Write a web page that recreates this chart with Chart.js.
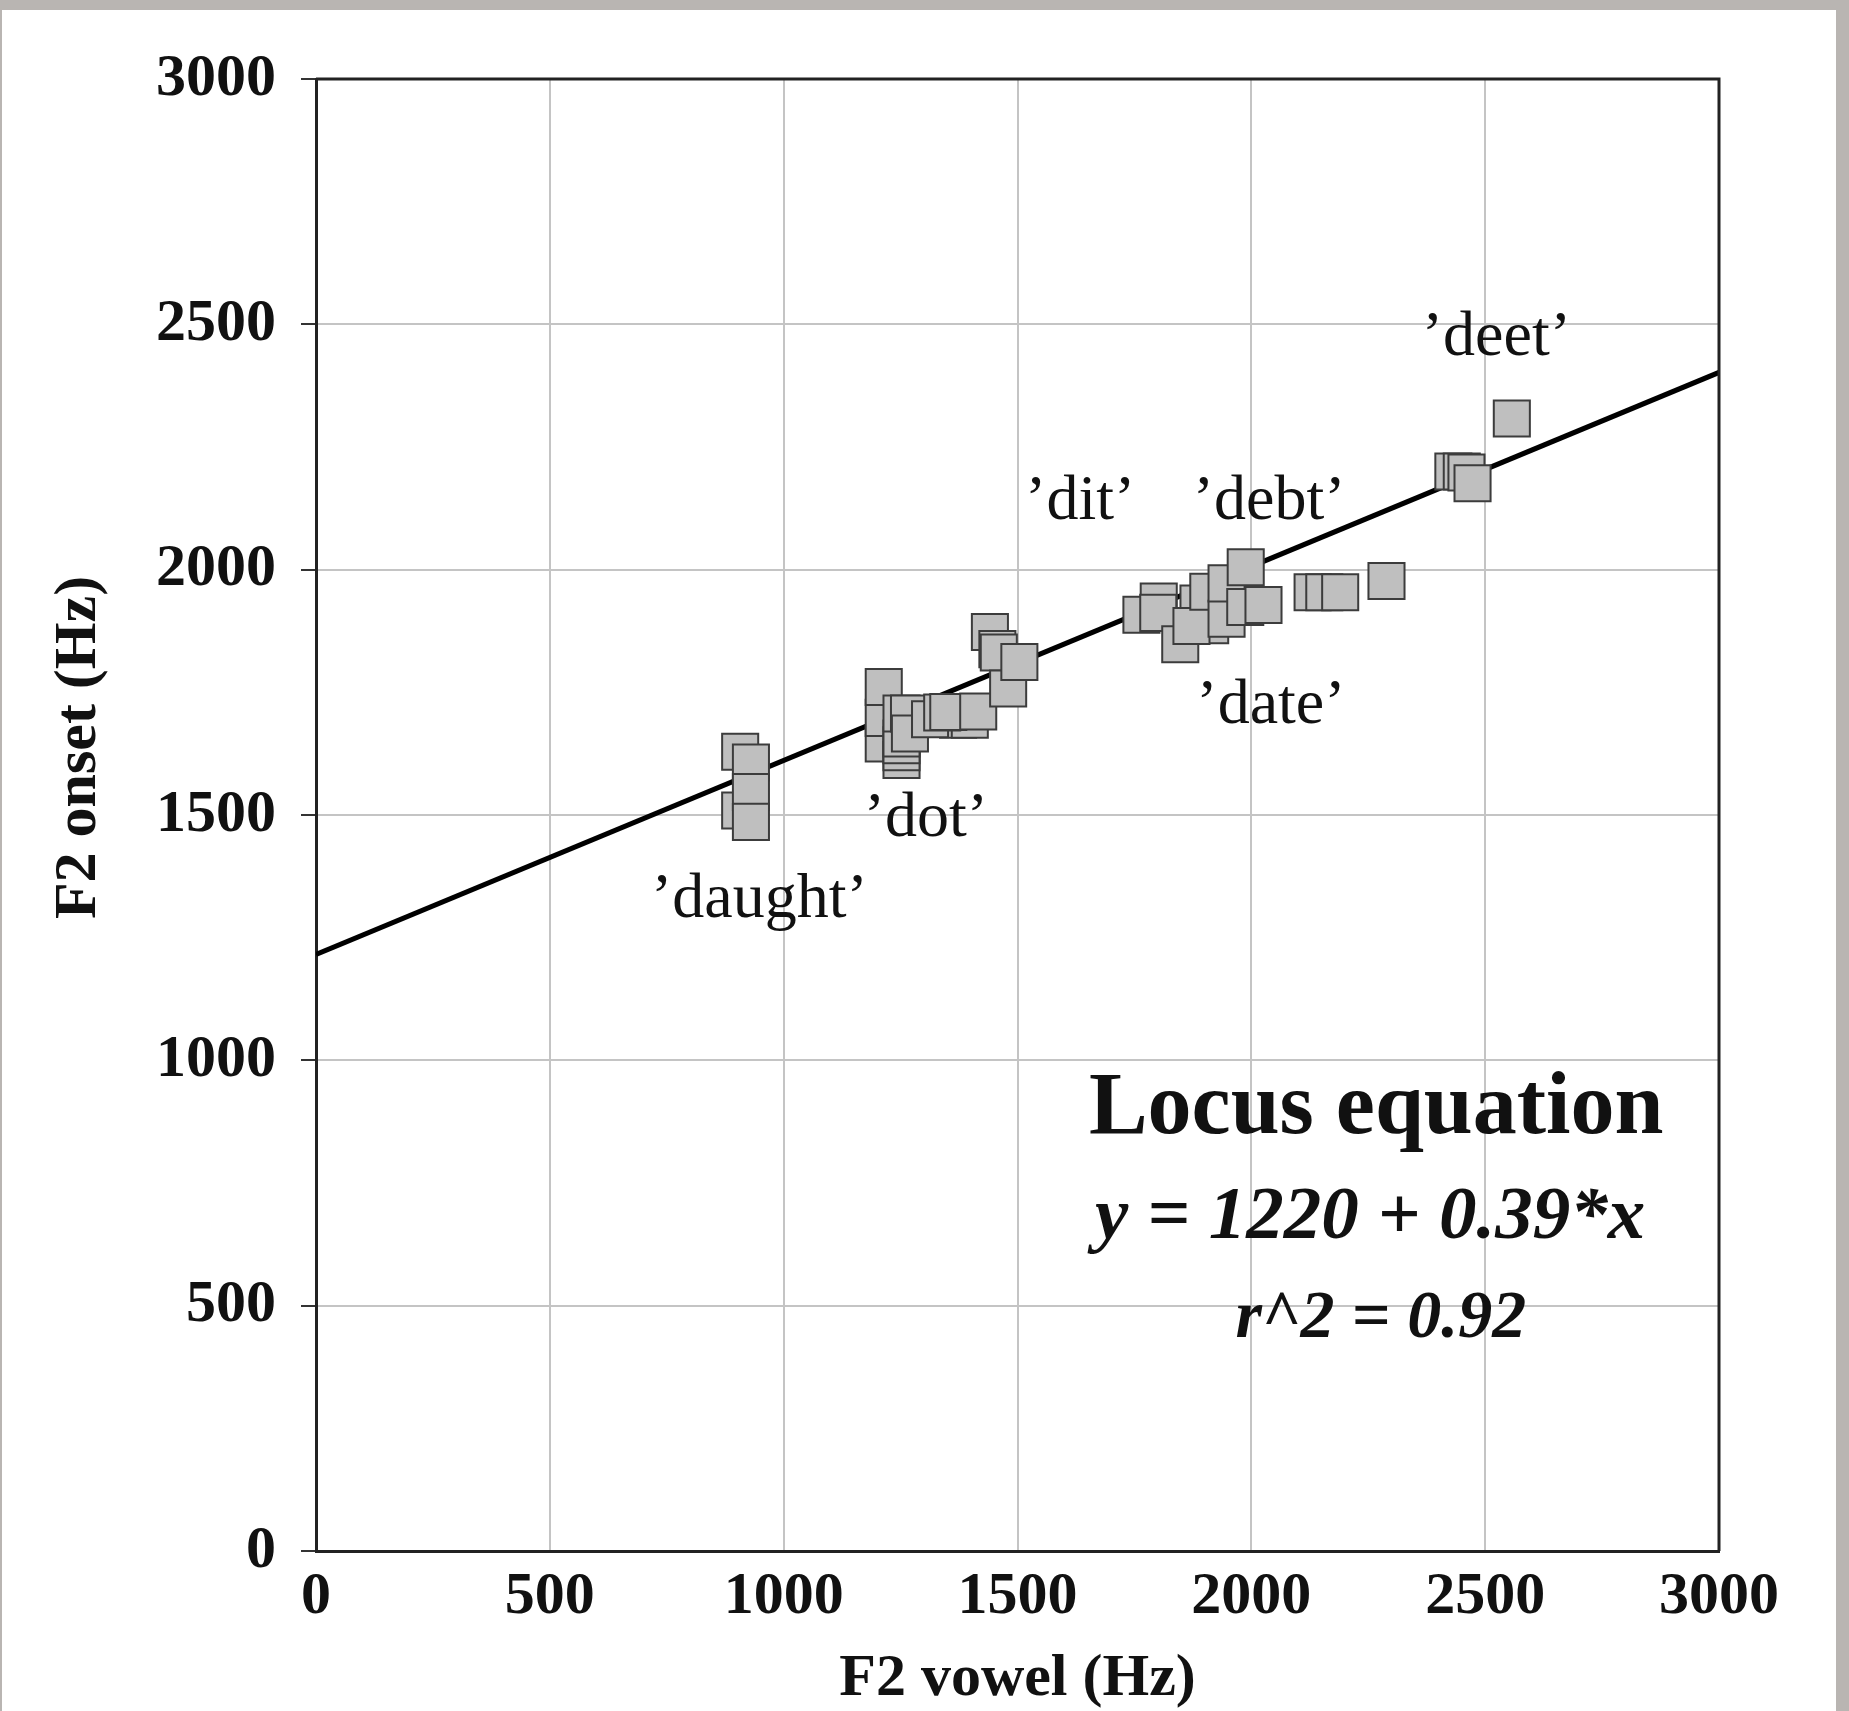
<!DOCTYPE html>
<html>
<head>
<meta charset="utf-8">
<script src="https://cdn.jsdelivr.net/npm/chart.js@4.4.1/dist/chart.umd.min.js"></script>
<style>
html,body{margin:0;padding:0;background:#ffffff;}
canvas{display:block;}
</style>
</head>
<body>
<canvas id="c" width="1849" height="1711"></canvas>
<script>
// ---- data (Hz) ----
const f2Vowel = [
  907, 907, 930, 930, 930,                                   // 'daught'
  1214, 1214, 1214, 1252, 1252, 1252, 1252, 1252, 1268, 1270,
  1373, 1398, 1313, 1339, 1352, 1416,                        // 'dot'
  1441, 1457, 1460, 1480, 1504,                              // 'dit'
  1802, 1765, 1801, 1848, 1887, 1912, 1872, 1908, 1947, 1947,
  1987, 1988, 2026,                                          // 'date' / 'debt'
  2131, 2156, 2190, 2289,
  2432, 2450, 2460, 2473, 2557                               // 'deet'
];
const f2Onset = [
  1629, 1509, 1607, 1547, 1486,
  1646, 1698, 1761, 1612, 1628, 1642, 1656, 1707, 1707, 1666,
  1694, 1694, 1695, 1709, 1710, 1711,
  1873, 1838, 1831, 1758, 1812,
  1935, 1908, 1912, 1848, 1931, 1887, 1885, 1955, 1900, 1972,
  1924, 2005, 1928,
  1954, 1954, 1954, 1977,
  2200, 2200, 2198, 2176, 2308
];
// regression line end points as drawn (y ≈ 1220 + 0.39*x)
const fitX = [0, 3000];
const fitY = [1216, 2402];
const axisTicks = [0, 500, 1000, 1500, 2000, 2500, 3000];

// word labels and their anchor (Hz)
const wordLabels = ["\u2019daught\u2019", "\u2019dot\u2019", "\u2019dit\u2019", "\u2019debt\u2019", "\u2019date\u2019", "\u2019deet\u2019"];
const wordX = [948, 1304, 1634, 2038, 2042, 2524];
const wordY = [1292, 1457, 2103, 2103, 1687, 2437];

const eqLines = ["Locus equation", "y = 1220 + 0.39*x", "r^2 = 0.92"];
const eqX = [2267, 2254, 2277];
const eqY = [852, 638, 436];

// ---- chart ----
const FAMILY = '"Liberation Serif", "Times New Roman", serif';

const decor = {
  id: 'decor',
  beforeDraw(chart) {
    const {ctx, width, height} = chart;
    ctx.save();
    ctx.fillStyle = '#b9b5b2';
    ctx.fillRect(0, 0, width, height);
    ctx.fillStyle = '#ffffff';
    ctx.fillRect(2, 10, width - 2 - 13, height - 10);
    ctx.restore();
  },
  afterDatasetsDraw(chart) {
    const {ctx, chartArea: a} = chart;
    const xs = chart.scales.x, ys = chart.scales.y;
    ctx.save();
    ctx.strokeStyle = '#222';
    ctx.lineWidth = 3;
    ctx.beginPath();
    ctx.moveTo(a.left, a.top);
    ctx.lineTo(a.right, a.top);
    ctx.lineTo(a.right, a.bottom);
    ctx.stroke();

    ctx.fillStyle = '#111';
    ctx.textAlign = 'center';
    ctx.textBaseline = 'alphabetic';
    ctx.font = '64px ' + FAMILY;
    wordLabels.forEach((t, i) => {
      ctx.fillText(t, xs.getPixelForValue(wordX[i]), ys.getPixelForValue(wordY[i]));
    });
    const fonts = ['bold 88px ' + FAMILY, 'italic bold 75px ' + FAMILY, 'italic bold 68px ' + FAMILY];
    eqLines.forEach((t, i) => {
      ctx.font = fonts[i];
      ctx.fillText(t, xs.getPixelForValue(eqX[i]), ys.getPixelForValue(eqY[i]));
    });
    ctx.restore();
  }
};

const points = f2Vowel.map((v, i) => ({x: v, y: f2Onset[i]}));
const fitLine = fitX.map((v, i) => ({x: v, y: fitY[i]}));

const tickFont = {family: FAMILY, size: 60, weight: 'bold'};

new Chart(document.getElementById('c'), {
  type: 'scatter',
  data: {
    datasets: [
      {
        label: 'F2',
        data: points,
        order: 0,
        pointStyle: 'rect',
        pointRadius: 25.5,
        pointBackgroundColor: '#bfbfbf',
        pointBorderColor: '#3c3c3c',
        pointBorderWidth: 2
      },
      {
        label: 'fit',
        data: fitLine,
        order: 1,
        showLine: true,
        borderColor: '#000',
        borderWidth: 5,
        pointRadius: 0,
        fill: false
      }
    ]
  },
  options: {
    responsive: false,
    devicePixelRatio: 1,
    animation: false,
    events: [],
    layout: {padding: {left: 0, top: 79, right: 130, bottom: 0}},
    plugins: {legend: {display: false}, tooltip: {enabled: false}},
    scales: {
      x: {
        type: 'linear', min: 0, max: 3000,
        afterBuildTicks: s => { s.ticks = axisTicks.map(v => ({value: v})); },
        afterFit: s => { s.height = 160; },
        grid: {color: '#c4c4c4', lineWidth: 2, drawTicks: false, tickLength: 0},
        border: {display: true, color: '#222', width: 3},
        ticks: {padding: 10, color: '#111', font: tickFont, maxRotation: 0, autoSkip: false,
                callback: v => String(v)},
        title: {display: true, text: 'F2 vowel (Hz)', color: '#111',
                font: {family: FAMILY, size: 60, weight: 'bold', lineHeight: 1},
                padding: {top: 0, bottom: 2}}
      },
      y: {
        type: 'linear', min: 0, max: 3000,
        afterBuildTicks: s => { s.ticks = axisTicks.map(v => ({value: v})); },
        afterFit: s => { s.width = 316; },
        grid: {color: '#c4c4c4', lineWidth: 2, drawTicks: true, tickLength: 15, tickColor: '#333', tickWidth: 2},
        border: {display: true, color: '#222', width: 3},
        ticks: {padding: 25, color: '#111', font: tickFont, autoSkip: false,
                callback: v => String(v)},
        title: {display: true, text: '\u00A0'.repeat(9) + 'F2 onset (Hz)', color: '#111',
                font: {family: FAMILY, size: 60, weight: 'bold', lineHeight: 1},
                padding: {top: 49, bottom: 0}}
      }
    }
  },
  plugins: [decor]
});
</script>
</body>
</html>
